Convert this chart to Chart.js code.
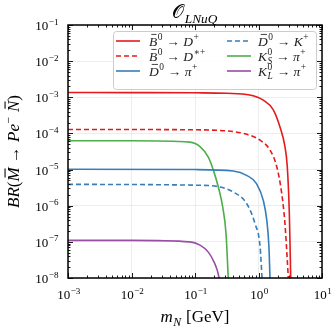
<!DOCTYPE html>
<html>
<head>
<meta charset="utf-8">
<script src="https://cdn.jsdelivr.net/npm/chart.js@4.4.1/dist/chart.umd.min.js"></script>
<style>
  body { margin: 0; background: #fff; }
  canvas { display: block; }
</style>
</head>
<body>
<canvas id="grafica" width="336" height="333"></canvas>
<script>
// Datos (m_N en GeV, BR)
var mN_BD   = [0.001, 0.01, 0.1, 0.316, 0.73, 1.19, 1.71, 2.18, 2.61, 2.84, 3.06, 3.22];
var br_BD   = [1.36e-3, 1.35e-3, 1.33e-3, 1.29e-3, 1.15e-3, 8.3e-4, 4.5e-4, 1.5e-4, 4.3e-5, 1.2e-5, 6.0e-7, 9e-9];

var mN_BDs  = [0.001, 0.1, 0.316, 0.575, 1.06, 1.51, 1.94, 2.32, 2.61, 2.84, 2.96];
var br_BDs  = [1.29e-4, 1.26e-4, 1.17e-4, 1.0e-4, 6.5e-5, 3.5e-5, 1.2e-5, 2.2e-6, 3.2e-7, 3.1e-8, 9e-9];

var mN_Dpi  = [0.001, 0.1, 0.40, 0.65, 0.93, 1.19, 1.35, 1.46, 1.52];
var br_Dpi  = [1.02e-5, 1.0e-5, 9.1e-6, 6.9e-6, 4.1e-6, 1.4e-6, 4.0e-7, 7.2e-8, 9e-9];

var mN_DK   = [0.001, 0.1, 0.248, 0.40, 0.65, 0.88, 1.06, 1.14];
var br_DK   = [3.9e-6, 3.7e-6, 3.3e-6, 2.4e-6, 1.15e-6, 3.2e-7, 7.2e-8, 9e-9];

var mN_KS   = [0.001, 0.01, 0.083, 0.12, 0.162, 0.195, 0.233, 0.273, 0.308, 0.335];
var br_KS   = [6.3e-5, 6.3e-5, 5.75e-5, 4.3e-5, 2.2e-5, 9.5e-6, 3.3e-6, 9.3e-7, 1.7e-7, 9e-9];

var mN_KL   = [0.001, 0.01, 0.083, 0.12, 0.162, 0.2, 0.225, 0.243];
var br_KL   = [1.1e-7, 1.1e-7, 1.0e-7, 8.1e-8, 5.2e-8, 2.75e-8, 1.6e-8, 9e-9];

var xTicks = [1e-3, 1e-2, 1e-1, 1e0, 1e1];
var xExps  = ['\u22123', '\u22122', '\u22121', '0', '1'];
var yTicks = [1e-8, 1e-7, 1e-6, 1e-5, 1e-4, 1e-3, 1e-2, 1e-1];
var yExps  = ['\u22128', '\u22127', '\u22126', '\u22125', '\u22124', '\u22123', '\u22122', '\u22121'];

// Etiquetas de la leyenda (texto con formato)
var etiquetas = [
    [{t:'B', i:1, bar:1}, {sup:'0'}, {t:' \u2192 '}, {t:'D', i:1}, {sup:'+'}],
    [{t:'B', i:1, bar:1}, {sup:'0'}, {t:' \u2192 '}, {t:'D', i:1}, {sup:'\u2217+'}],
    [{t:'D', i:1, bar:1}, {sup:'0'}, {t:' \u2192 '}, {t:'\u03c0', i:1}, {sup:'+'}],
    [{t:'D', i:1, bar:1}, {sup:'0'}, {t:' \u2192 '}, {t:'K', i:1}, {sup:'+'}],
    [{t:'K', i:1}, {sup:'0', sub:'S'}, {t:' \u2192 '}, {t:'\u03c0', i:1}, {sup:'+'}],
    [{t:'K', i:1}, {sup:'0', sub:'L'}, {t:' \u2192 '}, {t:'\u03c0', i:1}, {sup:'+'}]
];

var rojo = '#e41a1c', azul = '#377eb8', verde = '#4daf4a', morado = '#984ea3';
var serif = '"Liberation Serif", "DejaVu Serif", serif';

function fuente(sz, it) { return (it ? 'italic ' : '') + sz + 'px ' + serif; }

function puntos(xs, ys) {
    return xs.map(function (x, k) { return {x: x, y: ys[k]}; });
}

// Mide y dibuja texto con superindices / subindices
function anchoRico(ctx, segs, sz) {
    var w = 0;
    segs.forEach(function (s) {
        if (s.t !== undefined) {
            ctx.font = fuente(sz, s.i);
            w += ctx.measureText(s.t).width;
        } else {
            ctx.font = fuente(sz * 0.7, s.si);
            var a = s.sup ? ctx.measureText(s.sup).width : 0;
            ctx.font = fuente(sz * 0.7, true);
            var b = s.sub ? ctx.measureText(s.sub).width : 0;
            w += Math.max(a, b) + 1;
        }
    });
    return w;
}

function dibujaRico(ctx, segs, x, y, sz) {
    segs.forEach(function (s) {
        if (s.t !== undefined) {
            ctx.font = fuente(sz, s.i);
            ctx.fillText(s.t, x, y);
            var w = ctx.measureText(s.t).width;
            if (s.bar) {
                ctx.save();
                ctx.lineWidth = Math.max(0.8, sz / 16);
                ctx.strokeStyle = ctx.fillStyle;
                ctx.beginPath();
                ctx.moveTo(x + w * 0.28, y - sz * 0.82);
                ctx.lineTo(x + w * 0.92, y - sz * 0.82);
                ctx.stroke();
                ctx.restore();
            }
            x += w;
        } else {
            var a = 0, b = 0;
            if (s.sup) {
                ctx.font = fuente(sz * 0.7, s.si);
                ctx.fillText(s.sup, x + 0.5, y - sz * 0.42);
                a = ctx.measureText(s.sup).width;
            }
            if (s.sub) {
                ctx.font = fuente(sz * 0.7, true);
                ctx.fillText(s.sub, x + 0.5, y + sz * 0.25);
                b = ctx.measureText(s.sub).width;
            }
            x += Math.max(a, b) + 1;
        }
    });
}

var decorado = {
    id: 'decorado',
    afterDraw: function (chart) {
        var ctx = chart.ctx, area = chart.chartArea;
        var sx = chart.scales.x, sy = chart.scales.y;
        ctx.save();
        ctx.fillStyle = '#000';
        ctx.strokeStyle = '#000';

        // marcas hacia dentro en los cuatro lados
        ctx.lineWidth = 0.9;
        ctx.beginPath();
        for (var d = -3; d <= 1; d++) {
            for (var k = 1; k <= 9; k++) {
                var v = k * Math.pow(10, d);
                if (v > 10.0001) continue;
                var px = Math.round(sx.getPixelForValue(v)) + 0.5;
                var len = k === 1 ? 5 : 2.5;
                ctx.moveTo(px, area.bottom); ctx.lineTo(px, area.bottom - len);
                ctx.moveTo(px, area.top); ctx.lineTo(px, area.top + len);
            }
        }
        for (var d2 = -8; d2 <= -1; d2++) {
            for (var k2 = 1; k2 <= 9; k2++) {
                var v2 = k2 * Math.pow(10, d2);
                if (v2 > 0.10001) continue;
                var py = Math.round(sy.getPixelForValue(v2)) + 0.5;
                var len2 = k2 === 1 ? 5 : 2.5;
                ctx.moveTo(area.left, py); ctx.lineTo(area.left + len2, py);
                ctx.moveTo(area.right, py); ctx.lineTo(area.right - len2, py);
            }
        }
        ctx.stroke();

        // marco
        ctx.lineWidth = 1.5;
        ctx.strokeRect(area.left, area.top, area.right - area.left, area.bottom - area.top);

        // etiquetas de los ejes
        ctx.textBaseline = 'alphabetic';
        xTicks.forEach(function (v, k) {
            var segs = [{t: '10'}, {sup: xExps[k]}];
            var w = anchoRico(ctx, segs, 13);
            dibujaRico(ctx, segs, sx.getPixelForValue(v) - w / 2 + 1, 299, 13);
        });
        yTicks.forEach(function (v, k) {
            var segs = [{t: '10'}, {sup: yExps[k]}];
            var w = anchoRico(ctx, segs, 13);
            dibujaRico(ctx, segs, 59 - w, sy.getPixelForValue(v) + 5, 13);
        });

        // titulo
        var tit = [{t: '\ud835\udcaa'}, {sub: 'LNuQ'}];
        var wt = anchoRico(ctx, tit, 19);
        dibujaRico(ctx, tit, (area.left + area.right) / 2 - wt / 2, 18, 19);

        // titulo eje x
        var tx = [{t: 'm', i: 1}, {sub: 'N'}, {t: ' [GeV]'}];
        var wx = anchoRico(ctx, tx, 17);
        dibujaRico(ctx, tx, (area.left + area.right) / 2 - wx / 2, 322, 17);

        // titulo eje y
        var ty = [{t: 'BR', i: 1}, {t: '('}, {t: 'M', i: 1, bar: 1}, {t: ' \u2192 '}, {t: 'Pe', i: 1},
                  {sup: '\u2212'}, {t: ' '}, {t: 'N', i: 1, bar: 1}, {t: ')'}];
        var wy = anchoRico(ctx, ty, 17);
        ctx.save();
        ctx.translate(19, (area.top + area.bottom) / 2);
        ctx.rotate(-Math.PI / 2);
        dibujaRico(ctx, ty, -wy / 2, 0, 17);
        ctx.restore();

        // leyenda
        var bx = 113, by = 31, bw = 203, bh = 58;
        ctx.fillStyle = 'rgba(255,255,255,0.85)';
        ctx.strokeStyle = '#cccccc';
        ctx.lineWidth = 1;
        ctx.beginPath();
        ctx.roundRect(bx + 0.5, by + 0.5, bw, bh, 3);
        ctx.fill();
        ctx.stroke();
        var colLinea = [116, 227], colTexto = [149, 258];
        chart.data.datasets.forEach(function (ds, k) {
            var c = Math.floor(k / 3), r = k % 3;
            var yy = 41 + r * 15;
            ctx.strokeStyle = ds.borderColor;
            ctx.lineWidth = ds.borderWidth;
            ctx.setLineDash(ds.borderDash || []);
            ctx.beginPath();
            ctx.moveTo(colLinea[c], yy);
            ctx.lineTo(colLinea[c] + 24, yy);
            ctx.stroke();
            ctx.setLineDash([]);
            ctx.fillStyle = '#222';
            dibujaRico(ctx, etiquetas[k], colTexto[c], yy + 4.5, 13.5);
        });
        ctx.restore();
    }
};

function serie(xs, ys, color, guiones) {
    return {
        data: puntos(xs, ys),
        borderColor: color,
        backgroundColor: color,
        borderWidth: 1.6,
        borderDash: guiones,
        pointRadius: 0,
        fill: false,
        cubicInterpolationMode: 'monotone'
    };
}

var ctx = document.getElementById('grafica').getContext('2d');
var grafica = new Chart(ctx, {
    type: 'line',
    data: {
        datasets: [
            serie(mN_BD, br_BD, rojo, []),
            serie(mN_BDs, br_BDs, rojo, [5, 3]),
            serie(mN_Dpi, br_Dpi, azul, []),
            serie(mN_DK, br_DK, azul, [5, 3]),
            serie(mN_KS, br_KS, verde, []),
            serie(mN_KL, br_KL, morado, [])
        ]
    },
    options: {
        responsive: false,
        animation: false,
        devicePixelRatio: 1,
        layout: { padding: { left: 68, right: 14, top: 25, bottom: 55 } },
        plugins: {
            legend: { display: false },
            tooltip: { enabled: false }
        },
        scales: {
            x: {
                type: 'logarithmic',
                min: 1e-3,
                max: 1e1,
                afterBuildTicks: function (s) { s.ticks = xTicks.map(function (v) { return {value: v}; }); },
                ticks: { display: false },
                grid: { color: '#e8e8e8', lineWidth: 0.8, drawTicks: false },
                border: { display: false }
            },
            y: {
                type: 'logarithmic',
                min: 1e-8,
                max: 1e-1,
                afterBuildTicks: function (s) { s.ticks = yTicks.map(function (v) { return {value: v}; }); },
                ticks: { display: false },
                grid: { color: '#e8e8e8', lineWidth: 0.8, drawTicks: false },
                border: { display: false }
            }
        }
    },
    plugins: [decorado]
});
</script>
</body>
</html>
